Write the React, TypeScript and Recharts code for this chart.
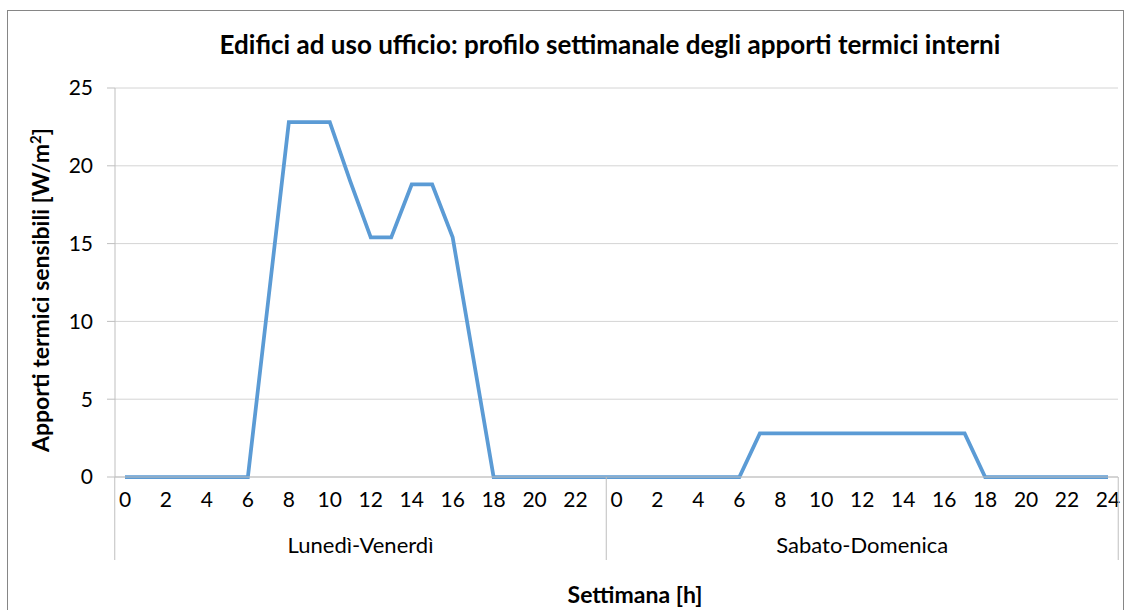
import React from 'react';
import { LineChart, Line, XAxis, YAxis, CartesianGrid } from 'recharts';

const weekdayHours = [0, 1, 2, 3, 4, 5, 6, 7, 8, 9, 10, 11, 12, 13, 14, 15, 16, 17, 18, 19, 20, 21, 22, 23];
const weekendHours = [0, 1, 2, 3, 4, 5, 6, 7, 8, 9, 10, 11, 12, 13, 14, 15, 16, 17, 18, 19, 20, 21, 22, 23, 24];
const weekdayGains = [0, 0, 0, 0, 0, 0, 0, 11.4, 22.8, 22.8, 22.8, 19.0, 15.4, 15.4, 18.8, 18.8, 15.4, 7.7, 0, 0, 0, 0, 0, 0];
const weekendGains = [0, 0, 0, 0, 0, 0, 0, 2.8, 2.8, 2.8, 2.8, 2.8, 2.8, 2.8, 2.8, 2.8, 2.8, 2.8, 0, 0, 0, 0, 0, 0, 0];
const groups = ['Lunedì-Venerdì', 'Sabato-Domenica'];
const yTicks = [0, 5, 10, 15, 20, 25];

const data = [
  ...weekdayHours.map((h, i) => ({ key: 'a' + h, hour: h, group: 0, value: weekdayGains[i] })),
  ...weekendHours.map((h, i) => ({ key: 'b' + h, hour: h, group: 1, value: weekendGains[i] })),
];

const W = 1131;
const H = 610;
const Y_W = 115;
const X_H = 133;
const RIGHT = 13;
const TOP = 88;
const PAD = 10;
const STEP = (W - Y_W - RIGHT - 2 * PAD) / (data.length - 1);
const FONT = 'Lato, "Open Sans", sans-serif';
const SEP_BOTTOM = 560;

const HourTick = (props: any) => {
  const { x, y, index } = props;
  const d = data[index];
  if (!d) return null;
  const parts: any[] = [];
  if (d.hour % 2 === 0) {
    parts.push(
      <text key="t" x={x} y={y + 30} textAnchor="middle" fontSize={21} fill="#000" fontFamily={FONT}>
        {d.hour}
      </text>
    );
  }
  // group separators
  if (d.hour === 0) {
    parts.push(<line key="s" x1={x - STEP / 2} x2={x - STEP / 2} y1={y} y2={SEP_BOTTOM} stroke="#bfbfbf" />);
  }
  if (index === data.length - 1) {
    parts.push(<line key="e" x1={x + STEP / 2} x2={x + STEP / 2} y1={y} y2={SEP_BOTTOM} stroke="#bfbfbf" />);
  }
  // group labels at the middle of each group
  const groupLen = data.filter((p) => p.group === d.group).length;
  const first = data.findIndex((p) => p.group === d.group);
  const mid = first + (groupLen - 1) / 2;
  if (index === Math.ceil(mid)) {
    parts.push(
      <text key="g" x={x - (Math.ceil(mid) - mid) * STEP} y={y + 76} textAnchor="middle" fontSize={22} fill="#000" fontFamily={FONT}>
        {groups[d.group]}
      </text>
    );
  }
  return <g>{parts}</g>;
};

export default function App() {
  return (
    <div style={{ position: 'absolute', left: 0, top: 0, width: W, height: H, background: '#fff', overflow: 'hidden', fontFamily: FONT }}>
      <div style={{ position: 'absolute', left: 7, top: 10, width: 1115, height: 640, border: '1px solid #868686' }} />
      <div style={{ position: 'absolute', left: 0, width: 1220, top: 31, lineHeight: 1, textAlign: 'center', fontSize: 26, fontWeight: 700, color: '#000' }}>
        Edifici ad uso ufficio: profilo settimanale degli apporti termici interni
      </div>
      <div style={{ position: 'absolute', left: 0, width: 1270, top: 583, lineHeight: 1, textAlign: 'center', fontSize: 23, fontWeight: 700, color: '#000' }}>
        Settimana [h]
      </div>
      <div
        style={{
          position: 'absolute',
          left: 40,
          top: 290,
          lineHeight: 1,
          transform: 'translate(-50%, -50%) rotate(-90deg)',
          whiteSpace: 'nowrap',
          fontSize: 23,
          fontWeight: 700,
          color: '#000',
        }}
      >
        Apporti termici sensibili [W/m<sup style={{ fontSize: 15 }}>2</sup>]
      </div>
      <div style={{ position: 'absolute', left: 0, top: 0 }}>
        <LineChart width={W} height={H} data={data} margin={{ top: TOP, right: RIGHT, left: 0, bottom: 0 }}>
          <CartesianGrid vertical={false} stroke="#d4d4d4" />
          <XAxis
            dataKey="key"
            interval={0}
            tick={<HourTick />}
            tickLine={false}
            tickSize={0}
            tickMargin={0}
            height={X_H}
            padding={{ left: PAD, right: PAD }}
            axisLine={{ stroke: '#bfbfbf' }}
          />
          <YAxis
            domain={[0, 25]}
            ticks={yTicks}
            width={Y_W}
            tickSize={8}
            tickMargin={14}
            tickLine={{ stroke: '#bfbfbf' }}
            axisLine={{ stroke: '#bfbfbf' }}
            tick={{ fontSize: 21, fill: '#000', fontFamily: FONT }}
          />
          <Line
            type="linear"
            dataKey="value"
            stroke="#5b9bd5"
            strokeWidth={3.75}
            dot={false}
            isAnimationActive={false}
          />
        </LineChart>
      </div>
    </div>
  );
}
